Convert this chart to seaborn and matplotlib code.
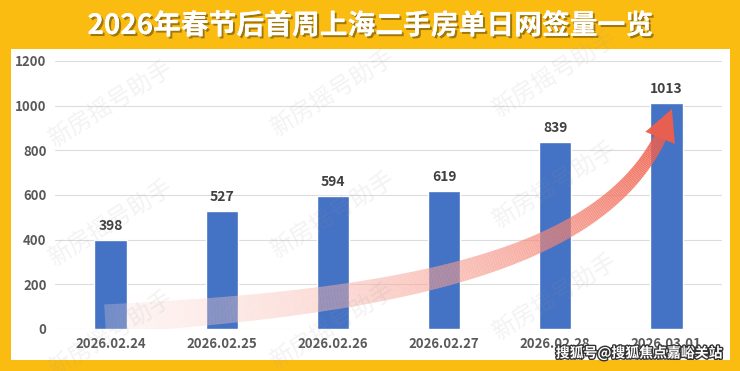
import numpy as np
import pandas as pd
import matplotlib
matplotlib.use('Agg')
import matplotlib.pyplot as plt
import matplotlib.patheffects as pe
from matplotlib.collections import LineCollection
from matplotlib.patches import Rectangle, Polygon
import seaborn as sns

# data
dates = ['2026.02.24', '2026.02.25', '2026.02.26', '2026.02.27', '2026.02.28', '2026.03.01']
signings = [398, 527, 594, 619, 839, 1013]
yticks = [0, 200, 400, 600, 800, 1000, 1200]

title = '2026年春节后首周上海二手房单日网签量一览'
watermark = '新房摇号助手'
credit = '搜狐号@搜狐焦点嘉峪关站'

df = pd.DataFrame({'date': dates, 'count': signings})

sns.set_theme(style='white')
plt.rcParams['font.family'] = ['Noto Sans CJK SC', 'DejaVu Sans']

fig = plt.figure(figsize=(7.4, 3.71), dpi=100)
fig.patch.set_facecolor('#FBBC12')

# white panel
fig.patches.append(Rectangle((11 / 740, 11 / 371), 719 / 740, 311 / 371,
                             transform=fig.transFigure, facecolor='white',
                             edgecolor='none', zorder=0))

ax = fig.add_axes([55 / 740, 42 / 371, 667 / 740, 268 / 371])
ax.set_zorder(2)
ax.set_facecolor('none')

sns.barplot(data=df, x='date', y='count', color='#4472C4', width=0.29,
            saturation=1, ax=ax, zorder=3)
ax.bar_label(ax.containers[0], padding=5, fontsize=10, fontweight='bold',
             color='#404040')

ax.set_ylim(0, 1200)
ax.set_xlim(-0.5, 5.5)
ax.set_yticks(yticks)
ax.yaxis.grid(True, color='#DCDCDC', lw=0.8, zorder=0)
ax.set_axisbelow(True)
for s in ax.spines.values():
    s.set_visible(False)
ax.set_xlabel('')
ax.set_ylabel('')
ax.tick_params(axis='x', length=0, pad=6, labelsize=9.5, labelcolor='#595959')
ax.tick_params(axis='y', length=0, pad=6, labelsize=9.5, labelcolor='#595959')
for lbl in ax.get_xticklabels() + ax.get_yticklabels():
    lbl.set_fontweight('bold')

# curved gradient arrow (decoration)
t = np.linspace(0, 1, 240)
p0, p1, p2, p3 = np.array([-0.05, 45]), np.array([2.6, 120]), np.array([4.4, 300]), np.array([4.95, 864])
curve = ((1 - t) ** 3)[:, None] * p0 + (3 * (1 - t) ** 2 * t)[:, None] * p1 \
    + (3 * (1 - t) * t ** 2)[:, None] * p2 + (t ** 3)[:, None] * p3
segs = np.stack([curve[:-1], curve[1:]], axis=1)
tm = (t[:-1] + t[1:]) / 2
red = np.array([0.94, 0.37, 0.29])
pink = np.array([0.99, 0.88, 0.86])
cols = np.zeros((len(tm), 4))
cols[:, :3] = pink + (red - pink) * tm[:, None] ** 0.9
cols[:, 3] = 0.25 + 0.67 * tm ** 0.8
widths = 21 - 12 * tm
lc = LineCollection(segs, colors=cols, linewidths=widths, capstyle='butt', zorder=4)
ax.add_collection(lc)

# arrow head built in pixel space
tip = ax.transData.transform((5.05, 985))
base = ax.transData.transform(p3)
d = (tip - base) / np.linalg.norm(tip - base)
n = np.array([-d[1], d[0]])
head_px = np.array([tip, base + n * 16 - d * 2, base - n * 16 - d * 2])
head = ax.transData.inverted().transform(head_px)
ax.add_patch(Polygon(head, closed=True, facecolor=(*red, 0.95), edgecolor='none', zorder=5))

# watermarks
for wx, wy in [(0.15, 0.72), (0.15, 0.40), (0.15, 0.10), (0.45, 0.75), (0.45, 0.42),
               (0.45, 0.12), (0.75, 0.80), (0.75, 0.50), (0.75, 0.20)]:
    fig.text(wx, wy, watermark, fontsize=17, color='#9A9A9A', alpha=0.12,
             rotation=32, ha='center', va='center', zorder=10)

fig.text(0.5, 0.93, title, ha='center', va='center', fontsize=20,
         fontweight='bold', color='white',
         path_effects=[pe.withSimplePatchShadow(offset=(1.5, -1.5),
                                                shadow_rgbFace='#7A5A08', alpha=0.7),
                       pe.Normal()])

fig.text(0.976, 0.048, credit, ha='right', va='center', fontsize=10,
         fontweight='bold', color='white',
         path_effects=[pe.withStroke(linewidth=2, foreground='#333333')], zorder=11)

fig.savefig('out.png', dpi=100, facecolor=fig.get_facecolor())
